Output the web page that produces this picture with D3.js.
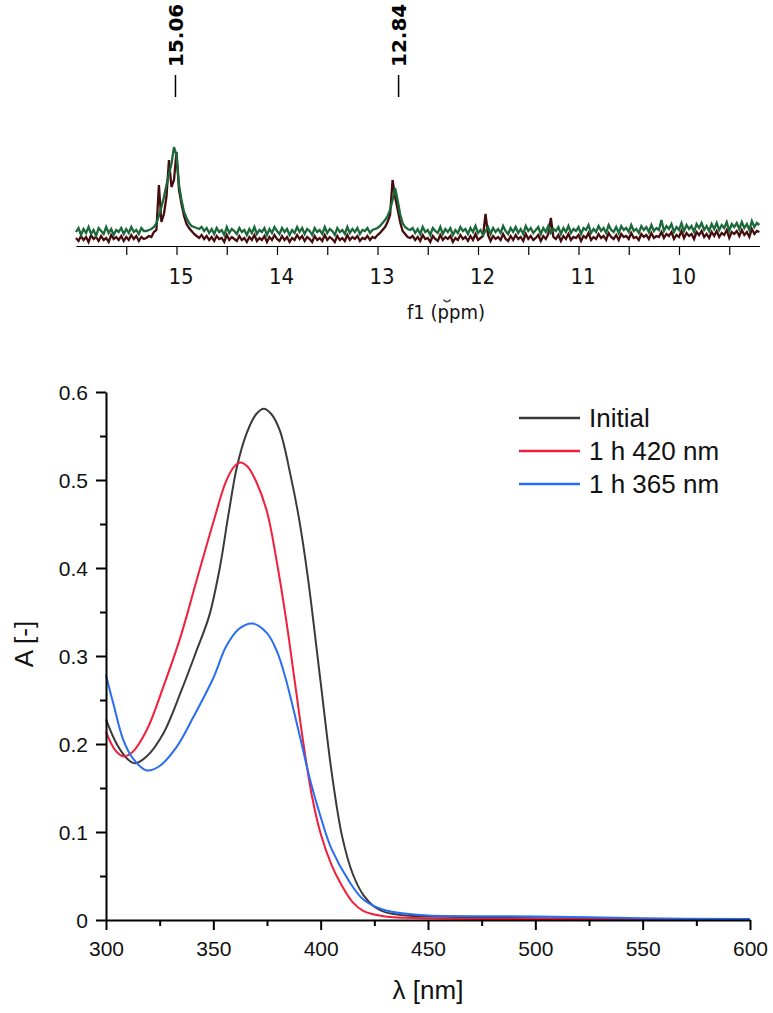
<!DOCTYPE html>
<html>
<head>
<meta charset="utf-8">
<script src="https://cdn.jsdelivr.net/npm/d3@7"></script>
<style>
  body { margin: 0; background: #fff; }
  svg { display: block; }
</style>
</head>
<body>
<svg id="chart" width="773" height="1013"></svg>
<script>
// ---- 1H NMR part (intensity in arbitrary units) ----
var nmrStart = 16.0, nmrStep = 0.025;   // ppm of first point, spacing
var nmrGreen = [
  8,12,5,11,7,13,6,10,4,12,9,6,13,7,11,5,10,8,12,6,
  11,7,13,8,10,6,12,9,
  9,10,11,13,17,24,33,43,55,66,76,93,85,55,40,28,22,17,14,13,12,11,13,9,12,
  7,11,6,12,8,10,5,13,7,11,9,6,12,8,10,5,11,7,13,6,
  10,8,12,5,11,7,13,9,6,12,8,11,5,10,7,13,8,12,6,11,
  9,5,12,8,10,6,13,7,11,9,5,12,8,10,6,13,7,11,8,12,
  6,10,9,12,7,
  10,11,12,14,17,20,24,30,40,52,40,26,17,13,11,10,
  12,7,11,6,13,8,10,5,12,9,7,13,6,11,8,12,5,10,7,13,
  9,11,6,12,8,14,7,10,5,9,13,6,12,8,11,7,14,9,6,12,
  8,13,7,11,6,14,9,12,7,10,13,6,12,8,14,7,11,9,13,6,
  12,8,14,7,11,9,13,6,12,10,15,7,11,8,14,9,12,7,15,10,
  8,13,7,14,10,12,8,15,9,11,7,14,10,13,8,15,9,12,10,20,
  9,14,11,16,8,13,10,17,9,15,11,14,8,16,12,17,10,14,9,16,
  11,17,10,15,12,18,9,16,13,17,11,18,12,16,10,19,13,17,15
];
var nmrRed = [
  4,1,6,2,5,0,7,3,5,1,6,2,4,0,7,3,5,2,6,1,
  5,2,7,3,6,1,5,3,
  4,6,5,10,12,57,20,28,45,82,55,62,90,52,38,26,18,14,11,8,6,4,7,3,6,
  2,5,1,6,3,4,0,7,2,5,3,1,6,2,4,0,5,2,7,1,
  4,2,6,0,5,2,7,3,1,6,2,5,0,4,2,7,3,6,1,5,
  3,0,6,2,4,1,7,2,5,3,0,6,2,4,1,7,2,5,3,6,
  1,4,3,6,2,
  5,4,7,9,12,15,20,27,62,45,33,20,11,8,5,4,
  6,2,5,1,7,3,4,0,6,3,1,7,2,5,3,6,0,4,2,7,
  3,5,1,6,2,8,2,4,6,28,7,1,6,3,5,2,8,3,1,6,
  2,7,3,5,1,8,3,6,2,4,7,1,6,3,8,24,5,3,7,1,
  6,3,8,2,5,4,7,1,6,4,9,2,5,3,8,4,6,2,9,5,
  3,7,2,8,5,6,3,9,4,5,2,8,5,7,3,9,4,6,5,10,
  4,8,6,10,3,7,5,11,4,9,6,8,3,10,7,11,5,8,4,10,
  6,11,5,9,7,12,4,10,8,11,6,12,7,10,5,13,8,11,10
];
var nmrTickValues = [15.5, 15, 14.5, 14, 13.5, 13, 12.5, 12, 11.5, 11, 10.5, 10, 9.5];
var peakPpm = [15.06, 12.84];
var peakText = ["15.06", "12.84"];

// ---- UV-vis part ----
var initialWl = [300,305,310,313.5,319,326.7,335,342,348,353,357,361,365.5,370,373.5,377,381,386,390,394,400,405,410,415,420,425,430,440,450,500,550,600];
var initialA  = [0.228,0.200,0.183,0.178,0.186,0.212,0.260,0.305,0.345,0.400,0.460,0.515,0.553,0.575,0.581,0.575,0.556,0.505,0.455,0.390,0.270,0.170,0.095,0.052,0.028,0.015,0.009,0.005,0.004,0.002,0.001,0.000];
var redWl = [300,304,308,312,319,326.7,334.5,342,350,356,360,362.7,366,370,375,379.5,384,388,392,396,400,405,409,415,420,430,450,500,600];
var redA  = [0.214,0.194,0.186,0.190,0.216,0.265,0.320,0.384,0.452,0.499,0.516,0.520,0.515,0.498,0.464,0.408,0.340,0.270,0.200,0.140,0.098,0.063,0.043,0.020,0.010,0.004,0.002,0.001,0.000];
var blueWl = [300,303.4,308,312.7,319,325,333,341,350,356,362,368.3,375,379.5,383.4,390,395,400,405,413,420,430,440,450,500,550,600];
var blueA  = [0.278,0.246,0.205,0.183,0.170,0.175,0.197,0.232,0.275,0.311,0.331,0.337,0.326,0.306,0.277,0.212,0.160,0.117,0.081,0.045,0.023,0.011,0.007,0.005,0.004,0.002,0.001];
var seriesNames = ["Initial", "1 h 420 nm", "1 h 365 nm"];
var seriesColors = ["#3a3a3a", "#f41d3c", "#2a6cf2"];
var xTickValues = [300, 350, 400, 450, 500, 550, 600];
var xMinorValues = [325, 375, 425, 475, 525, 575];
var yTickValues = [0, 0.1, 0.2, 0.3, 0.4, 0.5, 0.6];
var yMinorValues = [0.05, 0.15, 0.25, 0.35, 0.45, 0.55];

var svg = d3.select("#chart");

// ================= NMR =================
var xN = d3.scaleLinear().domain([16.0, 9.2]).range([76, 759.4]);
var yN = d3.scaleLinear().domain([0, 100]).range([240, 140]);
var nmrFont = "'DejaVu Sans Condensed', 'DejaVu Sans', sans-serif";

function nmrPoints(arr) {
  return arr.map(function(v, i) { return [nmrStart - i * nmrStep, v]; });
}
var nmrLine = d3.line()
  .x(function(d) { return xN(d[0]); })
  .y(function(d) { return yN(d[1]); });

var gN = svg.append("g");
// second spectrum sits a little lower, as in the stacked plot
gN.append("path").datum(nmrPoints(nmrRed))
  .attr("transform", "translate(0,2)")
  .attr("d", nmrLine).attr("fill", "none")
  .attr("stroke", "#460d0f").attr("stroke-width", 2.3);
gN.append("path").datum(nmrPoints(nmrGreen))
  .attr("d", nmrLine).attr("fill", "none")
  .attr("stroke", "#1b683a").attr("stroke-width", 2.3);

var axN = gN.append("g").attr("transform", "translate(0,246)")
  .call(d3.axisBottom(xN).tickValues(nmrTickValues).tickSize(9).tickSizeOuter(0)
    .tickFormat(function(d) { return Number.isInteger(d) ? d : ""; }));
axN.select(".domain").attr("stroke", "#000").attr("stroke-width", 1.2);
axN.selectAll(".tick line").attr("stroke", "#000").attr("stroke-width", 1.2);
axN.selectAll(".tick text")
  .attr("y", 38).attr("dy", null).attr("dx", 4)
  .attr("fill", "#111").style("font-family", nmrFont).style("font-size", "22px");

gN.append("text").attr("x", 446).attr("y", 319).attr("text-anchor", "middle")
  .style("font-family", nmrFont).style("font-size", "20px").attr("fill", "#111")
  .text("f1 (ppm)");
// small stray mark above the "p"
gN.append("path").attr("d", "M443.5,299.5 Q447,304 450.5,299.5")
  .attr("fill", "none").attr("stroke", "#444").attr("stroke-width", 1.3);

// peak labels
peakPpm.forEach(function(p, i) {
  var px = xN(p) + 5;
  gN.append("line").attr("x1", px).attr("x2", px).attr("y1", 75).attr("y2", 97)
    .attr("stroke", "#000").attr("stroke-width", 1.5);
  gN.append("text")
    .attr("transform", "translate(" + (px + 7.5) + ",67) rotate(-90)")
    .style("font-family", "'DejaVu Sans', sans-serif").style("font-weight", "bold")
    .style("font-size", "20px").attr("fill", "#000")
    .text(peakText[i]);
});

// ================= UV-vis =================
var x = d3.scaleLinear().domain([300, 600]).range([106, 750]);
var y = d3.scaleLinear().domain([0, 0.6]).range([920, 392]);
var uvFont = "'Liberation Sans', Arial, sans-serif";

var gU = svg.append("g");
var series = [
  initialWl.map(function(w, i) { return [w, initialA[i]]; }),
  redWl.map(function(w, i) { return [w, redA[i]]; }),
  blueWl.map(function(w, i) { return [w, blueA[i]]; })
];
var uvLine = d3.line().curve(d3.curveCatmullRom.alpha(0.5))
  .x(function(d) { return x(d[0]); })
  .y(function(d) { return y(d[1]); });

gU.selectAll("path.curve").data(series).enter().append("path")
  .attr("class", "curve")
  .attr("d", uvLine).attr("fill", "none")
  .attr("stroke", function(d, i) { return seriesColors[i]; })
  .attr("stroke-width", 2);

// axes
var axX = gU.append("g").attr("transform", "translate(0,920)")
  .call(d3.axisBottom(x).tickValues(xTickValues).tickSize(10).tickSizeOuter(0));
gU.append("g").attr("transform", "translate(0,920)")
  .call(d3.axisBottom(x).tickValues(xMinorValues).tickSize(6).tickSizeOuter(0).tickFormat(""))
  .select(".domain").remove();
var axY = gU.append("g").attr("transform", "translate(106,0)")
  .call(d3.axisLeft(y).tickValues(yTickValues).tickSize(10).tickSizeOuter(0)
    .tickFormat(function(d) { return d === 0 ? "0" : d3.format(".1f")(d); }));
gU.append("g").attr("transform", "translate(106,0)")
  .call(d3.axisLeft(y).tickValues(yMinorValues).tickSize(6).tickSizeOuter(0).tickFormat(""))
  .select(".domain").remove();

gU.selectAll(".domain").attr("stroke", "#000").attr("stroke-width", 2);
gU.selectAll(".tick line").attr("stroke", "#000").attr("stroke-width", 2);
gU.selectAll(".tick text").attr("fill", "#111")
  .style("font-family", uvFont).style("font-size", "21px");
axX.selectAll(".tick text").attr("y", 36).attr("dy", null);
axY.selectAll(".tick text").attr("x", -18).attr("dy", "0.35em");

gU.append("text").attr("x", 428).attr("y", 999).attr("text-anchor", "middle")
  .style("font-family", uvFont).style("font-size", "26px").attr("fill", "#111")
  .text("λ [nm]");
gU.append("text").attr("transform", "translate(33,644) rotate(-90)")
  .attr("text-anchor", "middle")
  .style("font-family", uvFont).style("font-size", "26px").attr("fill", "#111")
  .text("A [-]");

// legend
var leg = gU.selectAll("g.leg").data(seriesNames).enter().append("g")
  .attr("class", "leg")
  .attr("transform", function(d, i) { return "translate(519," + (418 + i * 33) + ")"; });
leg.append("line").attr("x1", 0).attr("x2", 61).attr("y1", 0).attr("y2", 0)
  .attr("stroke", function(d, i) { return seriesColors[i]; }).attr("stroke-width", 2.5);
leg.append("text").attr("x", 70).attr("dy", "0.36em")
  .style("font-family", uvFont).style("font-size", "26px").attr("fill", "#111")
  .text(function(d) { return d; });
</script>
</body>
</html>
